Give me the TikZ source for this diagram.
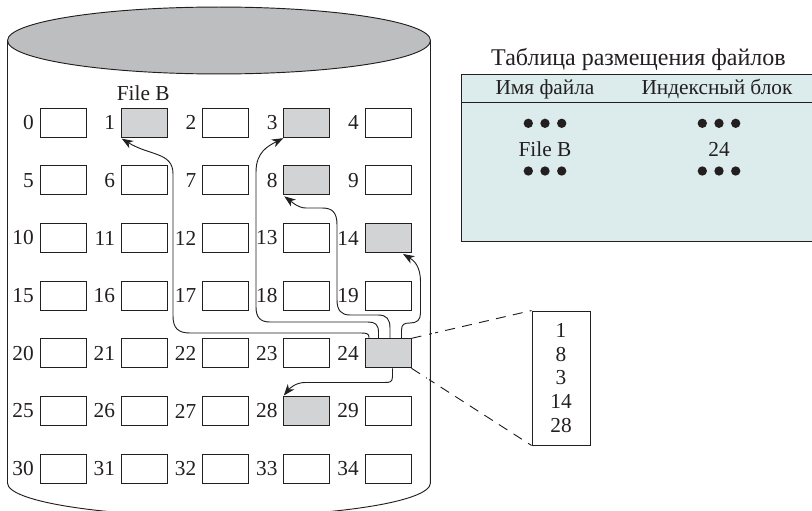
\documentclass[tikz,border=0pt]{standalone}
\usepackage{fontspec}
\setmainfont{Liberation Serif}
\usetikzlibrary{arrows.meta,calc}
\definecolor{blkgray}{HTML}{D1D3D4}
\definecolor{topgray}{HTML}{BCBEC0}
\definecolor{tabfill}{HTML}{DCEBEB}
\definecolor{ink}{HTML}{231F20}
\begin{document}
\begin{tikzpicture}[x=0.75pt,y=-0.75pt,
  every node/.style={font=\fontsize{16}{18}\selectfont, text=ink},
  blk/.style={draw=ink, line width=0.7pt, minimum width=34.5pt, minimum height=21.75pt,
    inner sep=0pt, label={[inner sep=4.1pt]left:#1}},
  conn/.style={draw=ink, line width=0.7pt, -{Stealth[length=8.5pt,width=6.3pt,inset=2.5pt]}},
  dashconn/.style={draw=ink, line width=0.7pt, dash pattern=on 7.5pt off 5.5pt},
  tdot/.style={circle, fill=ink, inner sep=0pt, minimum size=7pt},
  idxbox/.style={draw=ink, line width=0.7pt, minimum width=43.5pt, minimum height=100.5pt,
    align=center, inner sep=0pt, font=\fontsize{16}{17.8}\selectfont},
]
\clip (0,0) rectangle (812,510);
% dashed index lines (drawn first, interrupted by the cylinder wall)
\node[idxbox] (idx) at (561,378) {1\\8\\3\\14\\28};
% cylinder
\draw[ink, line width=0.7pt] (7.5,40.5) -- (7.5,483)
  arc[start angle=180, end angle=360, x radius=158.6pt, y radius=25.1pt]
  -- (430.5,40.5);
\draw[ink, line width=0.7pt, fill=topgray] (219,40.5) ellipse [x radius=158.6pt, y radius=25.1pt];
% blocks
\foreach \r in {0,...,6}{\foreach \c in {0,...,4}{
  \pgfmathtruncatemacro\n{\r*5+\c}
  \pgfmathsetmacro\bx{63+81.25*\c}
  \pgfmathsetmacro\by{122.7+57.65*\r}
  \pgfmathtruncatemacro\isg{(\n==1)||(\n==3)||(\n==8)||(\n==14)||(\n==24)||(\n==28)}
  \ifnum\isg=1 \def\fc{blkgray}\else\def\fc{white}\fi
  \node[blk=\n, fill=\fc] (b\n) at (\bx,\by) {};
}}
\node[anchor=base] (fileB) at ($(b1.north)+(-1,-7)$) {File B};
% dashed lines with a gap at the cylinder wall
\draw[dashconn] (b24.north east) -- (idx.north west);
\draw[dashconn] (b24.south east) -- (idx.south west);
\fill[white] (426.5,320) rectangle (428.8,380);
\fill[white] (432.2,320) rectangle (434.5,380);
% table
\path[fill=tabfill] (461,74) rectangle (815,241);
\draw[ink, line width=0.7pt] (815,74) -- (461,74) -- (461,241) -- (815,241);
\draw[ink, line width=0.7pt] (461,102.5) -- (815,102.5);
\node[anchor=base, font=\fontsize{18}{20}\selectfont] (title) at (638.4,65) {Таблица размещения файлов};
\node[anchor=base] (h1) at (545,94.5) {Имя файла};
\node[anchor=base] (h2) at (717,94.5) {Индексный блок};
\foreach \y [count=\i] in {123.3,171}{
  \foreach \dx [count=\j] in {-16.7,0,16.7}{
    \node[tdot] (dl\i\j) at (545+\dx,\y) {};
    \node[tdot] (dr\i\j) at (719+\dx,\y) {};
  }}
\node[anchor=base] (tf) at (545,156.7) {File B};
\node[anchor=base] (tn) at (719,156.7) {24};
% arrows
\draw[conn] ($(b24.north)+(-19,0)$) -- ++(0,-1) .. controls +(0,-4) and (366,333) .. (361,333)
  -- (190,333) .. controls (178,333) and (173,328) .. (173,316)
  -- (173,174) .. controls (173,152) and (150,156) .. ($(b1.south west)+(1,1)$);
\draw[conn] ($(b24.north)+(-9.5,0)$) -- ++(0,-6) .. controls +(0,-8) and (375,322) .. (368,322)
  -- (270,322) .. controls (260,322) and (256,317) .. (256,307)
  -- (256,172) .. controls (256,152) and (268,146) .. ($(b3.south west)+(0,0.5)$);
\draw[conn] ($(b24.north)+(2,0)$) -- ++(0,-10) .. controls +(0,-9) and (387,315) .. (378,315)
  -- (350,315) .. controls (341,315) and (337,310) .. (337,300)
  -- (337,225) .. controls (337,212) and (332,208) .. (322,208)
  -- (306,208) .. controls (298,208) and (292,202) .. ($(b8.south west)+(1,1)$);
\draw[conn] ($(b24.north)+(13.5,0)$) -- ++(0,-8) .. controls +(0,-6) and (404,323) .. (410,323)
  .. controls (417,323) and (420.5,320) .. (420.5,313)
  -- (420.5,282) .. controls (420.5,265) and (413,260) .. ($(b14.south)+(15,1)$);
\draw[conn] ($(b24.south)+(4.5,0)$) -- ++(0,8) .. controls +(0,6) and (390,382.5) .. (384,382.5)
  -- (305,382.5) .. controls (296,382.5) and (290,388) .. ($(b28.north west)+(0.5,-0.5)$);
\end{tikzpicture}
\end{document}
